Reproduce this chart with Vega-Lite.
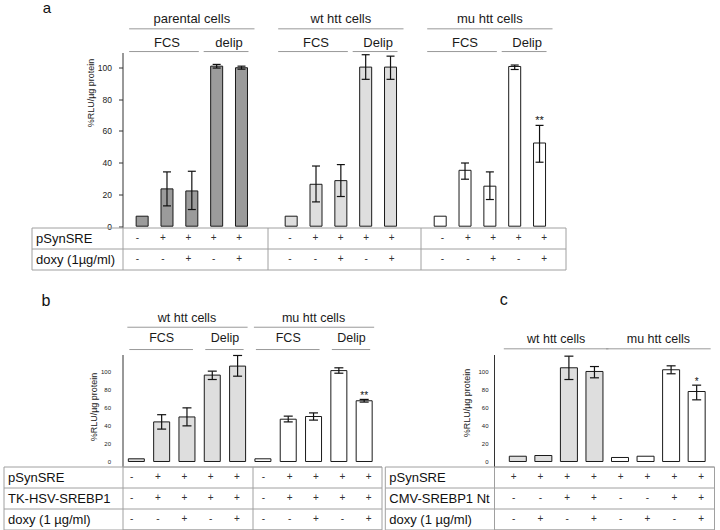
{
"$schema": "https://vega.github.io/schema/vega-lite/v6.json",
"background": "white",
"padding": {"left": 2.5, "top": 0.5, "right": 2, "bottom": 1},
"config": {"view": {"stroke": null}, "font": "Liberation Sans", "axis": {"labelFont": "Liberation Sans", "titleFont": "Liberation Sans"}, "text": {"font": "Liberation Sans"}},
"datasets": {
"bars_a": [
{"cells":"parental cells","medium":"FCS","idx":1,"value":6.3,"pSynSRE":"-","doxy (1µg/ml)":"-"},
{"cells":"parental cells","medium":"FCS","idx":2,"value":23.5,"lo":12.8,"hi":34.2,"pSynSRE":"+","doxy (1µg/ml)":"-"},
{"cells":"parental cells","medium":"FCS","idx":3,"value":22.2,"lo":10.5,"hi":34.6,"pSynSRE":"+","doxy (1µg/ml)":"+"},
{"cells":"parental cells","medium":"delip","idx":4,"value":100.8,"lo":99.6,"hi":101.9,"pSynSRE":"+","doxy (1µg/ml)":"-"},
{"cells":"parental cells","medium":"delip","idx":5,"value":99.8,"lo":98.9,"hi":100.8,"pSynSRE":"+","doxy (1µg/ml)":"+"},
{"cells":"wt htt cells","medium":"FCS","idx":7,"value":6.3,"pSynSRE":"-","doxy (1µg/ml)":"-"},
{"cells":"wt htt cells","medium":"FCS","idx":8,"value":26.4,"lo":15.3,"hi":37.9,"pSynSRE":"+","doxy (1µg/ml)":"-"},
{"cells":"wt htt cells","medium":"FCS","idx":9,"value":28.7,"lo":18.7,"hi":38.8,"pSynSRE":"+","doxy (1µg/ml)":"+"},
{"cells":"wt htt cells","medium":"Delip","idx":10,"value":100.2,"lo":92.5,"hi":108,"pSynSRE":"+","doxy (1µg/ml)":"-"},
{"cells":"wt htt cells","medium":"Delip","idx":11,"value":100.2,"lo":92.5,"hi":107.1,"pSynSRE":"+","doxy (1µg/ml)":"+"},
{"cells":"mu htt cells","medium":"FCS","idx":13,"value":6.3,"pSynSRE":"-","doxy (1µg/ml)":"-"},
{"cells":"mu htt cells","medium":"FCS","idx":14,"value":35.2,"lo":29.6,"hi":39.8,"pSynSRE":"+","doxy (1µg/ml)":"-"},
{"cells":"mu htt cells","medium":"FCS","idx":15,"value":25.2,"lo":16.8,"hi":34.2,"pSynSRE":"+","doxy (1µg/ml)":"+"},
{"cells":"mu htt cells","medium":"Delip","idx":16,"value":100.6,"lo":98.7,"hi":101.5,"pSynSRE":"+","doxy (1µg/ml)":"-"},
{"cells":"mu htt cells","medium":"Delip","idx":17,"value":52.4,"lo":40.3,"hi":63.5,"sig":"**","pSynSRE":"+","doxy (1µg/ml)":"+"}
],
"bars_b": [
{"cells":"wt htt cells","medium":"FCS","idx":1,"value":3,"pSynSRE":"-","TK-HSV-SREBP1":"-","doxy (1 µg/ml)":"-"},
{"cells":"wt htt cells","medium":"FCS","idx":2,"value":44,"lo":36,"hi":52,"pSynSRE":"+","TK-HSV-SREBP1":"+","doxy (1 µg/ml)":"-"},
{"cells":"wt htt cells","medium":"FCS","idx":3,"value":49.5,"lo":39.6,"hi":59.6,"pSynSRE":"+","TK-HSV-SREBP1":"+","doxy (1 µg/ml)":"+"},
{"cells":"wt htt cells","medium":"Delip","idx":4,"value":96,"lo":91.1,"hi":100.4,"pSynSRE":"+","TK-HSV-SREBP1":"+","doxy (1 µg/ml)":"-"},
{"cells":"wt htt cells","medium":"Delip","idx":5,"value":106,"lo":94.8,"hi":117.8,"pSynSRE":"+","TK-HSV-SREBP1":"+","doxy (1 µg/ml)":"+"},
{"cells":"mu htt cells","medium":"FCS","idx":6,"value":3,"pSynSRE":"-","TK-HSV-SREBP1":"-","doxy (1 µg/ml)":"-"},
{"cells":"mu htt cells","medium":"FCS","idx":7,"value":47,"lo":44,"hi":50.4,"pSynSRE":"+","TK-HSV-SREBP1":"+","doxy (1 µg/ml)":"-"},
{"cells":"mu htt cells","medium":"FCS","idx":8,"value":50,"lo":46,"hi":54,"pSynSRE":"+","TK-HSV-SREBP1":"+","doxy (1 µg/ml)":"+"},
{"cells":"mu htt cells","medium":"Delip","idx":9,"value":101,"lo":98.1,"hi":104.1,"pSynSRE":"+","TK-HSV-SREBP1":"+","doxy (1 µg/ml)":"-"},
{"cells":"mu htt cells","medium":"Delip","idx":10,"value":67.5,"lo":66,"hi":69,"sig":"**","pSynSRE":"+","TK-HSV-SREBP1":"+","doxy (1 µg/ml)":"+"}
],
"bars_c": [
{"cells":"wt htt cells","idx":1,"value":5.9,"pSynSRE":"+","CMV-SREBP1 Nt":"-","doxy (1 µg/ml)":"-"},
{"cells":"wt htt cells","idx":2,"value":6.7,"pSynSRE":"+","CMV-SREBP1 Nt":"-","doxy (1 µg/ml)":"+"},
{"cells":"wt htt cells","idx":3,"value":104.7,"lo":91.6,"hi":117.7,"pSynSRE":"+","CMV-SREBP1 Nt":"+","doxy (1 µg/ml)":"-"},
{"cells":"wt htt cells","idx":4,"value":100.6,"lo":93.5,"hi":106.1,"pSynSRE":"+","CMV-SREBP1 Nt":"+","doxy (1 µg/ml)":"+"},
{"cells":"mu htt cells","idx":5,"value":4.5,"pSynSRE":"+","CMV-SREBP1 Nt":"-","doxy (1 µg/ml)":"-"},
{"cells":"mu htt cells","idx":6,"value":5.9,"pSynSRE":"+","CMV-SREBP1 Nt":"-","doxy (1 µg/ml)":"+"},
{"cells":"mu htt cells","idx":7,"value":102.5,"lo":98,"hi":106.9,"pSynSRE":"+","CMV-SREBP1 Nt":"+","doxy (1 µg/ml)":"-"},
{"cells":"mu htt cells","idx":8,"value":78.2,"lo":68.9,"hi":85.3,"sig":"*","pSynSRE":"+","CMV-SREBP1 Nt":"+","doxy (1 µg/ml)":"+"}
]
},
"bounds": "flush",
"columns": 2,
"align": {"row": "each", "column": "each"},
"spacing": {"row": 0, "column": 112.5},
"concat": [
{
"width": 259, "height": 175,
"data": {"name": "bars_a"},
"encoding": {"x": {"field": "idx", "type": "quantitative", "scale": {"domain": [0.41, 17.844], "range": [0, 443], "nice": false, "zero": false}, "axis": {"domain": true, "domainColor": "#555", "ticks": false, "labels": false, "grid": false, "title": null}}},
"layer": [
{"mark": {"type": "bar", "width": 12, "stroke": "#1a1a1a", "strokeWidth": 1},
 "encoding": {
  "y": {"field": "value", "type": "quantitative", "scale": {"domain": [-0.82, 109.4], "nice": false, "zero": false},
        "axis": {"values": [0,20,40,60,80,100], "domain": true, "domainColor": "#333", "grid": false, "title": "%RLU/µg protein", "titleFontSize": 9, "titleFontWeight": "normal", "titleColor": "#222", "titleAngle": 270, "titleAlign": "center", "titleBaseline": "middle", "titleX": -32, "titleY": 40, "labelFontSize": 8.5, "labelColor": "#222", "ticks": true, "tickSize": 4, "tickColor": "#333", "labelPadding": 7}},
  "y2": {"datum": 0},
  "color": {"field": "cells", "type": "nominal", "scale": {"domain": ["parental cells", "wt htt cells", "mu htt cells"], "range": ["#9b9b9b", "#dedede", "#ffffff"]}, "legend": null}
 }},
{"transform": [{"filter": "isValid(datum.lo)"}], "mark": {"type": "rule", "color": "#111", "strokeWidth": 1.2},
 "encoding": {"y": {"field": "lo", "type": "quantitative", "axis": {"values": [0,20,40,60,80,100], "domain": true, "domainColor": "#333", "grid": false, "title": "%RLU/µg protein", "titleFontSize": 9, "titleFontWeight": "normal", "titleColor": "#222", "titleAngle": 270, "titleAlign": "center", "titleBaseline": "middle", "titleX": -32, "titleY": 40, "labelFontSize": 8.5, "labelColor": "#222", "ticks": true, "tickSize": 4, "tickColor": "#333", "labelPadding": 7}}, "y2": {"field": "hi"}}},
{"transform": [{"filter": "isValid(datum.lo)"}], "mark": {"type": "rule", "color": "#111", "strokeWidth": 1.2, "xOffset": -4, "x2Offset": 4},
 "encoding": {"x2": {"field": "idx"}, "y": {"field": "lo", "type": "quantitative", "axis": {"values": [0,20,40,60,80,100], "domain": true, "domainColor": "#333", "grid": false, "title": "%RLU/µg protein", "titleFontSize": 9, "titleFontWeight": "normal", "titleColor": "#222", "titleAngle": 270, "titleAlign": "center", "titleBaseline": "middle", "titleX": -32, "titleY": 40, "labelFontSize": 8.5, "labelColor": "#222", "ticks": true, "tickSize": 4, "tickColor": "#333", "labelPadding": 7}}}},
{"transform": [{"filter": "isValid(datum.lo)"}], "mark": {"type": "rule", "color": "#111", "strokeWidth": 1.2, "xOffset": -4, "x2Offset": 4},
 "encoding": {"x2": {"field": "idx"}, "y": {"field": "hi", "type": "quantitative", "axis": {"values": [0,20,40,60,80,100], "domain": true, "domainColor": "#333", "grid": false, "title": "%RLU/µg protein", "titleFontSize": 9, "titleFontWeight": "normal", "titleColor": "#222", "titleAngle": 270, "titleAlign": "center", "titleBaseline": "middle", "titleX": -32, "titleY": 40, "labelFontSize": 8.5, "labelColor": "#222", "ticks": true, "tickSize": 4, "tickColor": "#333", "labelPadding": 7}}}},
{"transform": [{"filter": "datum.sig"}], "mark": {"type": "text", "fontSize": 11, "baseline": "alphabetic", "dy": -1, "color": "#111"},
 "encoding": {"y": {"field": "hi", "type": "quantitative", "axis": {"values": [0,20,40,60,80,100], "domain": true, "domainColor": "#333", "grid": false, "title": "%RLU/µg protein", "titleFontSize": 9, "titleFontWeight": "normal", "titleColor": "#222", "titleAngle": 270, "titleAlign": "center", "titleBaseline": "middle", "titleX": -32, "titleY": 40, "labelFontSize": 8.5, "labelColor": "#222", "ticks": true, "tickSize": 4, "tickColor": "#333", "labelPadding": 7}}, "text": {"field": "sig"}}},
{"mark": {"type": "text", "fontSize": 13, "baseline": "middle", "color": "#1a1a1a"},
 "encoding": {"x": {"aggregate": "mean", "field": "idx", "type": "quantitative", "axis": null}, "y": {"datum": 130.5, "type": "quantitative", "axis": {"values": [0,20,40,60,80,100], "domain": true, "domainColor": "#333", "grid": false, "title": "%RLU/µg protein", "titleFontSize": 9, "titleFontWeight": "normal", "titleColor": "#222", "titleAngle": 270, "titleAlign": "center", "titleBaseline": "middle", "titleX": -32, "titleY": 40, "labelFontSize": 8.5, "labelColor": "#222", "ticks": true, "tickSize": 4, "tickColor": "#333", "labelPadding": 7}}, "text": {"field": "cells"}}},
{"mark": {"type": "rule", "color": "#999", "strokeWidth": 1, "xOffset": -13, "x2Offset": 13},
 "encoding": {"x": {"aggregate": "min", "field": "idx", "type": "quantitative", "axis": null}, "x2": {"aggregate": "max", "field": "idx"}, "y": {"datum": 124.3, "type": "quantitative", "axis": {"values": [0,20,40,60,80,100], "domain": true, "domainColor": "#333", "grid": false, "title": "%RLU/µg protein", "titleFontSize": 9, "titleFontWeight": "normal", "titleColor": "#222", "titleAngle": 270, "titleAlign": "center", "titleBaseline": "middle", "titleX": -32, "titleY": 40, "labelFontSize": 8.5, "labelColor": "#222", "ticks": true, "tickSize": 4, "tickColor": "#333", "labelPadding": 7}}, "detail": {"field": "cells"}}},
{"mark": {"type": "text", "fontSize": 13, "baseline": "middle", "color": "#1a1a1a"},
 "encoding": {"x": {"aggregate": "mean", "field": "idx", "type": "quantitative", "axis": null}, "y": {"datum": 115.2, "type": "quantitative", "axis": {"values": [0,20,40,60,80,100], "domain": true, "domainColor": "#333", "grid": false, "title": "%RLU/µg protein", "titleFontSize": 9, "titleFontWeight": "normal", "titleColor": "#222", "titleAngle": 270, "titleAlign": "center", "titleBaseline": "middle", "titleX": -32, "titleY": 40, "labelFontSize": 8.5, "labelColor": "#222", "ticks": true, "tickSize": 4, "tickColor": "#333", "labelPadding": 7}}, "text": {"field": "medium"}, "detail": {"field": "cells"}}},
{"mark": {"type": "rule", "color": "#999", "strokeWidth": 1, "xOffset": -13, "x2Offset": 7},
 "encoding": {"x": {"aggregate": "min", "field": "idx", "type": "quantitative", "axis": null}, "x2": {"aggregate": "max", "field": "idx"}, "y": {"datum": 110.0, "type": "quantitative", "axis": {"values": [0,20,40,60,80,100], "domain": true, "domainColor": "#333", "grid": false, "title": "%RLU/µg protein", "titleFontSize": 9, "titleFontWeight": "normal", "titleColor": "#222", "titleAngle": 270, "titleAlign": "center", "titleBaseline": "middle", "titleX": -32, "titleY": 40, "labelFontSize": 8.5, "labelColor": "#222", "ticks": true, "tickSize": 4, "tickColor": "#333", "labelPadding": 7}}, "detail": [{"field": "cells"}, {"field": "medium"}]}},
{"mark": {"type": "text", "text": "a", "fontSize": 15, "baseline": "alphabetic", "align": "center", "color": "#111", "dx": -95.3},
 "encoding": {"x": {"aggregate": "min", "field": "idx", "type": "quantitative", "axis": null}, "y": {"datum": 134.3, "type": "quantitative", "axis": {"values": [0,20,40,60,80,100], "domain": true, "domainColor": "#333", "grid": false, "title": "%RLU/µg protein", "titleFontSize": 9, "titleFontWeight": "normal", "titleColor": "#222", "titleAngle": 270, "titleAlign": "center", "titleBaseline": "middle", "titleX": -32, "titleY": 40, "labelFontSize": 8.5, "labelColor": "#222", "ticks": true, "tickSize": 4, "tickColor": "#333", "labelPadding": 7}}}}
]
},
{
"width": 1, "height": 1,
"data": {"name": "bars_a"},
"transform": [{"filter": "false"}],
"mark": {"type": "text", "text": ""},
"encoding": {}
},
{
"width": 259, "height": 42,
"data": {"name": "bars_a"},
"transform": [{"fold": ["pSynSRE", "doxy (1µg/ml)"], "as": ["row", "sym"]}],
"mark": {"type": "text", "fontSize": 10, "color": "#333", "baseline": "middle"},
"encoding": {
 "x": {"field": "idx", "type": "quantitative", "scale": {"domain": [0.41, 17.844], "range": [0, 443], "nice": false, "zero": false},
       "axis": {"values": [0.41, 6.116, 12.137, 17.844], "grid": true, "gridColor": "#a0a0a0", "domain": false, "ticks": false, "labels": false, "title": null}},
 "y": {"field": "row", "type": "nominal", "scale": {"type": "band", "domain": ["pSynSRE", "doxy (1µg/ml)"], "paddingInner": 0, "paddingOuter": 0},
       "axis": {"orient": "left", "offset": 91, "title": null, "domain": true, "domainColor": "#a0a0a0", "ticks": true, "tickSize": -91, "tickColor": "#a0a0a0", "tickBand": "extent", "grid": true, "gridColor": "#a0a0a0", "labelAlign": "left", "labelBaseline": "middle", "labelPadding": 87, "labelFontSize": 13, "labelColor": "#111", "labelLimit": 0}},
 "text": {"field": "sym"}
}
},
{
"width": 1, "height": 127,
"data": {"name": "bars_a"},
"transform": [{"filter": "false"}],
"mark": {"type": "text", "text": ""},
"encoding": {}
},
{
"width": 259, "height": 112,
"data": {"name": "bars_b"},
"encoding": {"x": {"field": "idx", "type": "quantitative", "scale": {"domain": [0.651, 10.487], "nice": false, "zero": false}, "axis": {"offset": -5, "domain": true, "domainColor": "#555", "ticks": false, "labels": false, "grid": false, "title": null}}},
"layer": [
{"mark": {"type": "bar", "width": 16, "stroke": "#1a1a1a", "strokeWidth": 1},
 "encoding": {
  "y": {"field": "value", "type": "quantitative", "scale": {"domain": [-5.556, 118.89], "nice": false, "zero": false},
        "axis": {"values": [0,20,40,60,80,100], "domain": true, "domainColor": "#333", "grid": false, "title": "%RLU/µg protein", "titleFontSize": 9, "titleFontWeight": "normal", "titleColor": "#222", "titleAngle": 270, "titleAlign": "center", "titleBaseline": "middle", "titleX": -29, "titleY": 52, "labelFontSize": 6, "labelColor": "#222", "ticks": false, "labelPadding": 12}},
  "y2": {"datum": 0},
  "color": {"field": "cells", "type": "nominal", "scale": {"domain": ["wt htt cells", "mu htt cells"], "range": ["#e0e0e0", "#ffffff"]}, "legend": null}
 }},
{"transform": [{"filter": "isValid(datum.lo)"}], "mark": {"type": "rule", "color": "#111", "strokeWidth": 1.2},
 "encoding": {"y": {"field": "lo", "type": "quantitative", "axis": {"values": [0,20,40,60,80,100], "domain": true, "domainColor": "#333", "grid": false, "title": "%RLU/µg protein", "titleFontSize": 9, "titleFontWeight": "normal", "titleColor": "#222", "titleAngle": 270, "titleAlign": "center", "titleBaseline": "middle", "titleX": -29, "titleY": 52, "labelFontSize": 6, "labelColor": "#222", "ticks": false, "labelPadding": 12}}, "y2": {"field": "hi"}}},
{"transform": [{"filter": "isValid(datum.lo)"}], "mark": {"type": "rule", "color": "#111", "strokeWidth": 1.2, "xOffset": -4.5, "x2Offset": 4.5},
 "encoding": {"x2": {"field": "idx"}, "y": {"field": "lo", "type": "quantitative", "axis": {"values": [0,20,40,60,80,100], "domain": true, "domainColor": "#333", "grid": false, "title": "%RLU/µg protein", "titleFontSize": 9, "titleFontWeight": "normal", "titleColor": "#222", "titleAngle": 270, "titleAlign": "center", "titleBaseline": "middle", "titleX": -29, "titleY": 52, "labelFontSize": 6, "labelColor": "#222", "ticks": false, "labelPadding": 12}}}},
{"transform": [{"filter": "isValid(datum.lo)"}], "mark": {"type": "rule", "color": "#111", "strokeWidth": 1.2, "xOffset": -4.5, "x2Offset": 4.5},
 "encoding": {"x2": {"field": "idx"}, "y": {"field": "hi", "type": "quantitative", "axis": {"values": [0,20,40,60,80,100], "domain": true, "domainColor": "#333", "grid": false, "title": "%RLU/µg protein", "titleFontSize": 9, "titleFontWeight": "normal", "titleColor": "#222", "titleAngle": 270, "titleAlign": "center", "titleBaseline": "middle", "titleX": -29, "titleY": 52, "labelFontSize": 6, "labelColor": "#222", "ticks": false, "labelPadding": 12}}}},
{"transform": [{"filter": "datum.sig"}], "mark": {"type": "text", "fontSize": 10, "baseline": "alphabetic", "dy": 0, "color": "#111"},
 "encoding": {"y": {"field": "hi", "type": "quantitative", "axis": {"values": [0,20,40,60,80,100], "domain": true, "domainColor": "#333", "grid": false, "title": "%RLU/µg protein", "titleFontSize": 9, "titleFontWeight": "normal", "titleColor": "#222", "titleAngle": 270, "titleAlign": "center", "titleBaseline": "middle", "titleX": -29, "titleY": 52, "labelFontSize": 6, "labelColor": "#222", "ticks": false, "labelPadding": 12}}, "text": {"field": "sig"}}},
{"mark": {"type": "text", "fontSize": 12.5, "baseline": "middle", "color": "#1a1a1a"},
 "encoding": {"x": {"aggregate": "mean", "field": "idx", "type": "quantitative", "axis": null}, "y": {"datum": 158.9, "type": "quantitative", "axis": {"values": [0,20,40,60,80,100], "domain": true, "domainColor": "#333", "grid": false, "title": "%RLU/µg protein", "titleFontSize": 9, "titleFontWeight": "normal", "titleColor": "#222", "titleAngle": 270, "titleAlign": "center", "titleBaseline": "middle", "titleX": -29, "titleY": 52, "labelFontSize": 6, "labelColor": "#222", "ticks": false, "labelPadding": 12}}, "text": {"field": "cells"}}},
{"mark": {"type": "rule", "color": "#999", "strokeWidth": 1, "xOffset": -9, "x2Offset": 10},
 "encoding": {"x": {"aggregate": "min", "field": "idx", "type": "quantitative", "axis": null}, "x2": {"aggregate": "max", "field": "idx"}, "y": {"datum": 149.2, "type": "quantitative", "axis": {"values": [0,20,40,60,80,100], "domain": true, "domainColor": "#333", "grid": false, "title": "%RLU/µg protein", "titleFontSize": 9, "titleFontWeight": "normal", "titleColor": "#222", "titleAngle": 270, "titleAlign": "center", "titleBaseline": "middle", "titleX": -29, "titleY": 52, "labelFontSize": 6, "labelColor": "#222", "ticks": false, "labelPadding": 12}}, "detail": {"field": "cells"}}},
{"mark": {"type": "text", "fontSize": 12.5, "baseline": "middle", "color": "#1a1a1a"},
 "encoding": {"x": {"aggregate": "mean", "field": "idx", "type": "quantitative", "axis": null}, "y": {"datum": 136.7, "type": "quantitative", "axis": {"values": [0,20,40,60,80,100], "domain": true, "domainColor": "#333", "grid": false, "title": "%RLU/µg protein", "titleFontSize": 9, "titleFontWeight": "normal", "titleColor": "#222", "titleAngle": 270, "titleAlign": "center", "titleBaseline": "middle", "titleX": -29, "titleY": 52, "labelFontSize": 6, "labelColor": "#222", "ticks": false, "labelPadding": 12}}, "text": {"field": "medium"}, "detail": {"field": "cells"}}},
{"mark": {"type": "rule", "color": "#999", "strokeWidth": 1, "xOffset": -7, "x2Offset": 6},
 "encoding": {"x": {"aggregate": "min", "field": "idx", "type": "quantitative", "axis": null}, "x2": {"aggregate": "max", "field": "idx"}, "y": {"datum": 124.4, "type": "quantitative", "axis": {"values": [0,20,40,60,80,100], "domain": true, "domainColor": "#333", "grid": false, "title": "%RLU/µg protein", "titleFontSize": 9, "titleFontWeight": "normal", "titleColor": "#222", "titleAngle": 270, "titleAlign": "center", "titleBaseline": "middle", "titleX": -29, "titleY": 52, "labelFontSize": 6, "labelColor": "#222", "ticks": false, "labelPadding": 12}}, "detail": [{"field": "cells"}, {"field": "medium"}]}},
{"mark": {"type": "text", "text": "b", "fontSize": 16, "baseline": "alphabetic", "align": "center", "color": "#111", "dx": -90.4},
 "encoding": {"x": {"aggregate": "min", "field": "idx", "type": "quantitative", "axis": null}, "y": {"datum": 173.3, "type": "quantitative", "axis": {"values": [0,20,40,60,80,100], "domain": true, "domainColor": "#333", "grid": false, "title": "%RLU/µg protein", "titleFontSize": 9, "titleFontWeight": "normal", "titleColor": "#222", "titleAngle": 270, "titleAlign": "center", "titleBaseline": "middle", "titleX": -29, "titleY": 52, "labelFontSize": 6, "labelColor": "#222", "ticks": false, "labelPadding": 12}}}}
]
},
{
"width": 220, "height": 112,
"data": {"name": "bars_c"},
"encoding": {"x": {"field": "idx", "type": "quantitative", "scale": {"domain": [0.264, 8.483], "nice": false, "zero": false}, "axis": {"offset": -5, "domain": true, "domainColor": "#555", "ticks": false, "labels": false, "grid": false, "title": null}}},
"layer": [
{"mark": {"type": "bar", "width": 17, "stroke": "#1a1a1a", "strokeWidth": 1},
 "encoding": {
  "y": {"field": "value", "type": "quantitative", "scale": {"domain": [-5.587, 119.55], "nice": false, "zero": false},
        "axis": {"values": [0,20,40,60,80,100], "domain": true, "domainColor": "#333", "grid": false, "title": "%RLU/µg protein", "titleFontSize": 9, "titleFontWeight": "normal", "titleColor": "#222", "titleAngle": 270, "titleAlign": "center", "titleBaseline": "middle", "titleX": -28, "titleY": 48, "labelFontSize": 6, "labelColor": "#222", "ticks": false, "labelPadding": 6}},
  "y2": {"datum": 0},
  "color": {"field": "cells", "type": "nominal", "scale": {"domain": ["wt htt cells", "mu htt cells"], "range": ["#e0e0e0", "#ffffff"]}, "legend": null}
 }},
{"transform": [{"filter": "isValid(datum.lo)"}], "mark": {"type": "rule", "color": "#111", "strokeWidth": 1.2},
 "encoding": {"y": {"field": "lo", "type": "quantitative", "axis": {"values": [0,20,40,60,80,100], "domain": true, "domainColor": "#333", "grid": false, "title": "%RLU/µg protein", "titleFontSize": 9, "titleFontWeight": "normal", "titleColor": "#222", "titleAngle": 270, "titleAlign": "center", "titleBaseline": "middle", "titleX": -28, "titleY": 48, "labelFontSize": 6, "labelColor": "#222", "ticks": false, "labelPadding": 6}}, "y2": {"field": "hi"}}},
{"transform": [{"filter": "isValid(datum.lo)"}], "mark": {"type": "rule", "color": "#111", "strokeWidth": 1.2, "xOffset": -4.5, "x2Offset": 4.5},
 "encoding": {"x2": {"field": "idx"}, "y": {"field": "lo", "type": "quantitative", "axis": {"values": [0,20,40,60,80,100], "domain": true, "domainColor": "#333", "grid": false, "title": "%RLU/µg protein", "titleFontSize": 9, "titleFontWeight": "normal", "titleColor": "#222", "titleAngle": 270, "titleAlign": "center", "titleBaseline": "middle", "titleX": -28, "titleY": 48, "labelFontSize": 6, "labelColor": "#222", "ticks": false, "labelPadding": 6}}}},
{"transform": [{"filter": "isValid(datum.lo)"}], "mark": {"type": "rule", "color": "#111", "strokeWidth": 1.2, "xOffset": -4.5, "x2Offset": 4.5},
 "encoding": {"x2": {"field": "idx"}, "y": {"field": "hi", "type": "quantitative", "axis": {"values": [0,20,40,60,80,100], "domain": true, "domainColor": "#333", "grid": false, "title": "%RLU/µg protein", "titleFontSize": 9, "titleFontWeight": "normal", "titleColor": "#222", "titleAngle": 270, "titleAlign": "center", "titleBaseline": "middle", "titleX": -28, "titleY": 48, "labelFontSize": 6, "labelColor": "#222", "ticks": false, "labelPadding": 6}}}},
{"transform": [{"filter": "datum.sig"}], "mark": {"type": "text", "fontSize": 10, "baseline": "alphabetic", "dy": 0, "color": "#111"},
 "encoding": {"y": {"field": "hi", "type": "quantitative", "axis": {"values": [0,20,40,60,80,100], "domain": true, "domainColor": "#333", "grid": false, "title": "%RLU/µg protein", "titleFontSize": 9, "titleFontWeight": "normal", "titleColor": "#222", "titleAngle": 270, "titleAlign": "center", "titleBaseline": "middle", "titleX": -28, "titleY": 48, "labelFontSize": 6, "labelColor": "#222", "ticks": false, "labelPadding": 6}}, "text": {"field": "sig"}}},
{"mark": {"type": "text", "fontSize": 12.5, "baseline": "middle", "color": "#1a1a1a"},
 "encoding": {"x": {"aggregate": "mean", "field": "idx", "type": "quantitative", "axis": null}, "y": {"datum": 137.4, "type": "quantitative", "axis": {"values": [0,20,40,60,80,100], "domain": true, "domainColor": "#333", "grid": false, "title": "%RLU/µg protein", "titleFontSize": 9, "titleFontWeight": "normal", "titleColor": "#222", "titleAngle": 270, "titleAlign": "center", "titleBaseline": "middle", "titleX": -28, "titleY": 48, "labelFontSize": 6, "labelColor": "#222", "ticks": false, "labelPadding": 6}}, "text": {"field": "cells"}}},
{"mark": {"type": "rule", "color": "#999", "strokeWidth": 1, "xOffset": -14, "x2Offset": 14},
 "encoding": {"x": {"aggregate": "min", "field": "idx", "type": "quantitative", "axis": null}, "x2": {"aggregate": "max", "field": "idx"}, "y": {"datum": 125.9, "type": "quantitative", "axis": {"values": [0,20,40,60,80,100], "domain": true, "domainColor": "#333", "grid": false, "title": "%RLU/µg protein", "titleFontSize": 9, "titleFontWeight": "normal", "titleColor": "#222", "titleAngle": 270, "titleAlign": "center", "titleBaseline": "middle", "titleX": -28, "titleY": 48, "labelFontSize": 6, "labelColor": "#222", "ticks": false, "labelPadding": 6}}, "detail": {"field": "cells"}}},
{"mark": {"type": "text", "text": "c", "fontSize": 16, "baseline": "alphabetic", "align": "center", "color": "#111", "dx": -14},
 "encoding": {"x": {"aggregate": "min", "field": "idx", "type": "quantitative", "axis": null}, "y": {"datum": 175.4, "type": "quantitative", "axis": {"values": [0,20,40,60,80,100], "domain": true, "domainColor": "#333", "grid": false, "title": "%RLU/µg protein", "titleFontSize": 9, "titleFontWeight": "normal", "titleColor": "#222", "titleAngle": 270, "titleAlign": "center", "titleBaseline": "middle", "titleX": -28, "titleY": 48, "labelFontSize": 6, "labelColor": "#222", "ticks": false, "labelPadding": 6}}}}
]
},
{
"width": 259, "height": 63,
"view": {"stroke": "#a0a0a0"},
"data": {"name": "bars_b"},
"transform": [{"fold": ["pSynSRE", "TK-HSV-SREBP1", "doxy (1 µg/ml)"], "as": ["row", "sym"]}],
"mark": {"type": "text", "fontSize": 10, "color": "#333", "baseline": "middle"},
"encoding": {
 "x": {"field": "idx", "type": "quantitative", "scale": {"domain": [0.651, 10.487], "nice": false, "zero": false},
       "axis": {"values": [5.577], "grid": true, "gridColor": "#a0a0a0", "domain": false, "ticks": false, "labels": false, "title": null}},
 "y": {"field": "row", "type": "nominal", "scale": {"type": "band", "domain": ["pSynSRE", "TK-HSV-SREBP1", "doxy (1 µg/ml)"], "paddingInner": 0, "paddingOuter": 0},
       "axis": {"orient": "left", "offset": 119, "title": null, "domain": true, "domainColor": "#a0a0a0", "ticks": true, "tickSize": -119, "tickColor": "#a0a0a0", "tickBand": "extent", "grid": true, "gridColor": "#a0a0a0", "labelAlign": "left", "labelBaseline": "middle", "labelPadding": 115, "labelFontSize": 13, "labelColor": "#111", "labelLimit": 0}},
 "text": {"field": "sym"}
}
},
{
"width": 220, "height": 63,
"view": {"stroke": "#a0a0a0"},
"data": {"name": "bars_c"},
"transform": [{"fold": ["pSynSRE", "CMV-SREBP1 Nt", "doxy (1 µg/ml)"], "as": ["row", "sym"]}],
"mark": {"type": "text", "fontSize": 10, "color": "#333", "baseline": "middle"},
"encoding": {
 "x": {"field": "idx", "type": "quantitative", "scale": {"domain": [0.264, 8.483], "nice": false, "zero": false}, "axis": null},
 "y": {"field": "row", "type": "nominal", "scale": {"type": "band", "domain": ["pSynSRE", "CMV-SREBP1 Nt", "doxy (1 µg/ml)"], "paddingInner": 0, "paddingOuter": 0},
       "axis": {"orient": "left", "offset": 109.2, "title": null, "domain": true, "domainColor": "#a0a0a0", "ticks": true, "tickSize": -109.2, "tickColor": "#a0a0a0", "tickBand": "extent", "grid": true, "gridColor": "#a0a0a0", "labelAlign": "left", "labelBaseline": "middle", "labelPadding": 105.2, "labelFontSize": 13, "labelColor": "#111", "labelLimit": 0}},
 "text": {"field": "sym"}
}
}
]
}
